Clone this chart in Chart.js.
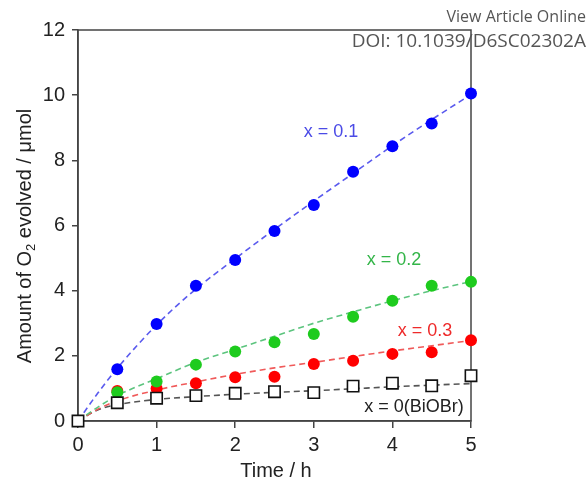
<!DOCTYPE html>
<html>
<head>
<meta charset="utf-8">
<script src="https://cdn.jsdelivr.net/npm/chart.js@4/dist/chart.umd.min.js"></script>
<style>
  html, body { margin: 0; padding: 0; background: #fff; }
  #wrap { width: 588px; height: 482px; position: relative; }
</style>
</head>
<body>
<div id="wrap"><canvas id="graficoO2"></canvas></div>
<script>
// tempos de medida (h)
var tempos = [0, 0.5, 1, 1.5, 2, 2.5, 3, 3.5, 4, 4.5, 5];

// O2 medido (umol)
var x01 = [0, 1.59, 2.98, 4.15, 4.94, 5.83, 6.63, 7.65, 8.43, 9.13, 10.05];
var x02 = [0, 0.88, 1.21, 1.73, 2.13, 2.42, 2.67, 3.20, 3.69, 4.15, 4.27];
var x03 = [0, 0.92, 1.00, 1.16, 1.34, 1.36, 1.75, 1.85, 2.06, 2.11, 2.48];
var x00 = [0, 0.56, 0.70, 0.78, 0.85, 0.90, 0.87, 1.07, 1.16, 1.08, 1.39];

// curvas ajustadas (tracejadas)
var temposAjuste = [0, 0.25, 0.5, 1, 1.5, 2, 2.5, 3, 3.5, 4, 4.5, 5];
var ajuste01 = [0, 0.85, 1.62, 2.95, 4.05, 4.98, 5.88, 6.75, 7.6, 8.45, 9.25, 10.02];
var ajuste02 = [0, 0.42, 0.78, 1.3, 1.8, 2.2, 2.6, 3.0, 3.35, 3.69, 4.0, 4.28];
var ajuste03 = [0, 0.36, 0.62, 0.95, 1.2, 1.43, 1.63, 1.8, 1.98, 2.15, 2.31, 2.47];
var ajuste00 = [0, 0.34, 0.5, 0.66, 0.75, 0.82, 0.88, 0.93, 0.99, 1.05, 1.1, 1.15];

var rotulos = [
  { texto: 'x = 0.1', x: 331, y: 132, cor: '#4b4be6' },
  { texto: 'x = 0.2', x: 394, y: 260, cor: '#33b548' },
  { texto: 'x = 0.3', x: 425, y: 331, cor: '#ee2a2a' },
  { texto: 'x = 0(BiOBr)', x: 414, y: 407, cor: '#222222' }
];

var FONTE = '"Liberation Sans", Arial, sans-serif';

function pontos(xs, ys) {
  return xs.map(function(t, i) { return { x: t, y: ys[i] }; });
}

function serieAjuste(dados, cor) {
  return {
    data: pontos(temposAjuste, dados),
    order: 5,
    showLine: true,
    borderColor: cor,
    borderWidth: 1.6,
    borderDash: [6, 4],
    cubicInterpolationMode: 'monotone',
    pointRadius: 0,
    fill: false
  };
}

function serieMedida(dados, cor) {
  return {
    data: pontos(tempos, dados),
    order: 2,
    showLine: false,
    clip: false,
    pointStyle: 'circle',
    pointRadius: 6,
    pointBackgroundColor: cor,
    pointBorderColor: cor,
    pointBorderWidth: 0
  };
}

// moldura, rotulos e titulos dos eixos
var extras = {
  id: 'extras',
  beforeDatasetsDraw: function(chart) {
    var ctx = chart.ctx;
    var a = chart.chartArea;
    ctx.save();
    ctx.strokeStyle = '#444';
    ctx.lineWidth = 1.5;
    ctx.strokeRect(a.left, a.top, a.right - a.left, a.bottom - a.top);
    ctx.restore();
  },
  afterDraw: function(chart) {
    var ctx = chart.ctx;
    ctx.save();
    ctx.font = '18px ' + FONTE;
    ctx.textAlign = 'center';
    ctx.textBaseline = 'middle';
    rotulos.forEach(function(r) {
      ctx.fillStyle = r.cor;
      ctx.fillText(r.texto, r.x, r.y);
    });

    ctx.fillStyle = '#222';
    ctx.font = '20px ' + FONTE;
    ctx.fillText('Time / h', 276, 471);

    // titulo do eixo y com subscrito
    ctx.translate(25, 236);
    ctx.rotate(-Math.PI / 2);
    var p1 = 'Amount of O', p2 = '2', p3 = ' evolved / \u03bcmol';
    ctx.font = '20px ' + FONTE;
    var w1 = ctx.measureText(p1).width, w3 = ctx.measureText(p3).width;
    ctx.font = '13px ' + FONTE;
    var w2 = ctx.measureText(p2).width;
    var x0 = -(w1 + w2 + w3) / 2;
    ctx.textAlign = 'left';
    ctx.font = '20px ' + FONTE;
    ctx.fillText(p1, x0, 0);
    ctx.font = '13px ' + FONTE;
    ctx.fillText(p2, x0 + w1, 6);
    ctx.font = '20px ' + FONTE;
    ctx.fillText(p3, x0 + w1 + w2, 0);
    ctx.restore();

    ctx.save();
    ctx.fillStyle = '#555';
    ctx.textAlign = 'right';
    ctx.textBaseline = 'alphabetic';
    ctx.font = '16px "Open Sans", Lato, sans-serif';
    ctx.fillText('View Article Online', 586, 22);
    ctx.font = '19px "Open Sans", Lato, sans-serif';
    ctx.fillText('DOI: 10.1039/D6SC02302A', 586, 47);
    ctx.restore();
  }
};

var grafico = new Chart(document.getElementById('graficoO2').getContext('2d'), {
  type: 'scatter',
  data: {
    datasets: [
      serieAjuste(ajuste01, '#5a5aee'),
      serieAjuste(ajuste02, '#5cc47e'),
      serieAjuste(ajuste03, '#f05a5a'),
      serieAjuste(ajuste00, '#555555'),
      serieMedida(x01, '#0000ff'),
      serieMedida(x02, '#1ecb1e'),
      serieMedida(x03, '#ff0000'),
      {
        data: pontos(tempos, x00),
        order: 0,
        showLine: false,
        clip: false,
        pointStyle: 'rect',
        pointRadius: 8,
        pointBackgroundColor: '#ffffff',
        pointBorderColor: '#111111',
        pointBorderWidth: 1.6
      }
    ]
  },
  options: {
    responsive: true,
    maintainAspectRatio: false,
    animation: false,
    layout: { padding: { left: 0, top: 30, right: 117, bottom: 0 } },
    plugins: { legend: { display: false }, tooltip: { enabled: false } },
    scales: {
      x: {
        type: 'linear',
        min: 0, max: 5,
        ticks: { stepSize: 1, color: '#222', font: { size: 20, family: FONTE }, padding: 5 },
        grid: { drawOnChartArea: false, drawTicks: true, tickLength: 7, color: '#444', lineWidth: 1.5 },
        border: { display: true, color: '#444', width: 1.5 },
        afterFit: function(scale) { scale.height = 61; }
      },
      y: {
        min: 0, max: 12,
        ticks: { stepSize: 2, color: '#222', font: { size: 20, family: FONTE }, padding: 7 },
        grid: { drawOnChartArea: false, drawTicks: true, tickLength: 6, color: '#444', lineWidth: 1.5 },
        border: { display: true, color: '#444', width: 1.5 },
        afterFit: function(scale) { scale.width = 78; }
      }
    }
  },
  plugins: [extras]
});
</script>
</body>
</html>
